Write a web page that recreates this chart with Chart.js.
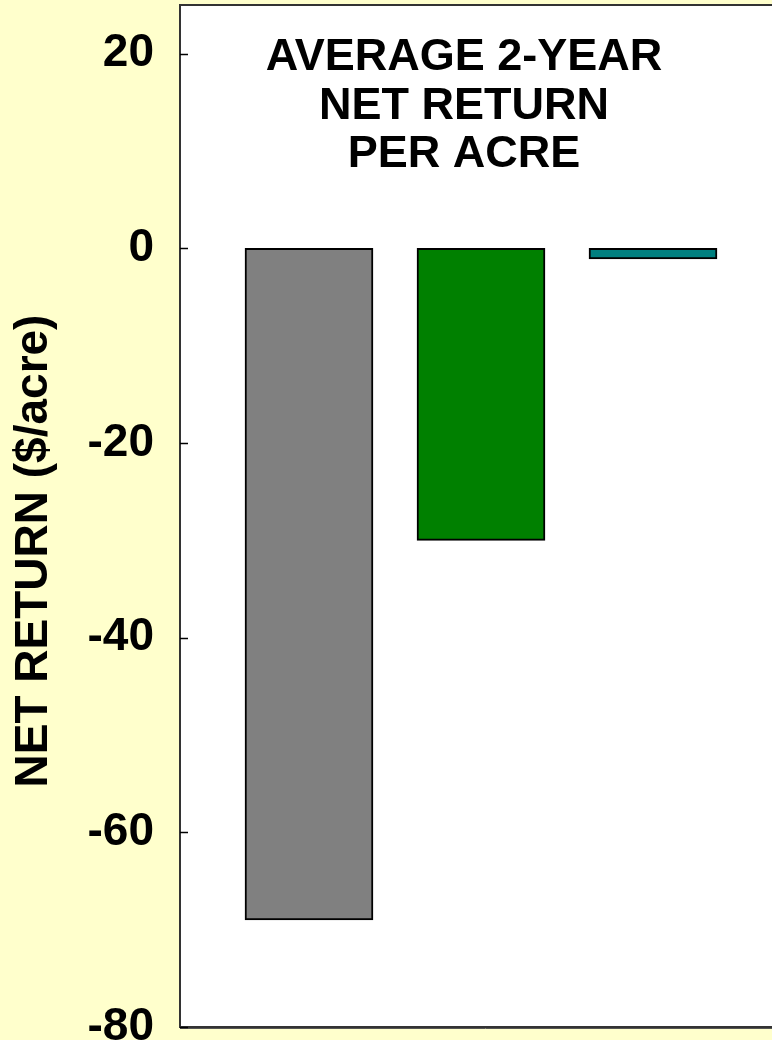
<!DOCTYPE html>
<html>
<head>
<meta charset="utf-8">
<script src="https://cdn.jsdelivr.net/npm/chart.js@4/dist/chart.umd.min.js"></script>
<style>
  html, body { margin: 0; padding: 0; background: #FFFFCC; overflow: hidden; }
  #wrap { width: 772px; height: 1040px; overflow: hidden; }
  canvas { display: block; }
</style>
</head>
<body>
<div id="wrap"><canvas id="chart" width="790" height="1040"></canvas></div>
<script>
// Treatment positions and their average 2-year net return ($/acre)
const positions = [1, 2, 3];
const netReturn = [-69, -30, -1.1];
const barColors = ['#808080', '#008000', '#008080'];
const yTicks = [-80, -60, -40, -20, 0, 20];
const titleLines = ['AVERAGE 2-YEAR', 'NET RETURN', 'PER ACRE'];
const yTitle = 'NET RETURN ($/acre)';

const FONT = '"Liberation Sans", Arial, Helvetica, sans-serif';

// White plot panel with its dark frame, inward tick marks and the titles
const panelPlugin = {
  id: 'panel',
  beforeDraw(chart) {
    const { ctx, chartArea: a } = chart;
    ctx.save();
    ctx.fillStyle = '#FFFFFF';
    ctx.fillRect(a.left, a.top, a.right - a.left + 20, a.bottom - a.top);
    ctx.restore();
  },
  afterDatasetsDraw(chart) {
    const { ctx, chartArea: a, scales } = chart;
    ctx.save();
    // frame
    ctx.strokeStyle = '#333333';
    ctx.lineWidth = 2;
    ctx.beginPath();
    ctx.moveTo(a.right + 20, a.top);
    ctx.lineTo(a.left, a.top);
    ctx.lineTo(a.left, a.bottom);
    ctx.lineTo(a.right + 20, a.bottom);
    ctx.stroke();
    ctx.strokeStyle = '#555555';
    ctx.lineWidth = 1;
    ctx.beginPath();
    ctx.moveTo(a.left, a.bottom + 1.5);
    ctx.lineTo(a.right + 20, a.bottom + 1.5);
    ctx.stroke();
    // inward tick marks
    ctx.strokeStyle = '#000000';
    ctx.lineWidth = 1.5;
    yTicks.forEach(v => {
      const y = Math.round(scales.y.getPixelForValue(v)) + 0.5;
      ctx.beginPath();
      ctx.moveTo(a.left, y);
      ctx.lineTo(a.left + 8, y);
      ctx.stroke();
    });
    // chart title inside the panel
    ctx.fillStyle = '#000000';
    ctx.font = 'bold 45px ' + FONT;
    ctx.textAlign = 'center';
    ctx.textBaseline = 'alphabetic';
    const cx = a.left + 284;
    titleLines.forEach((t, i) => {
      ctx.fillText(t, cx, a.top + 65 + i * 48.5);
    });
    // vertical axis title
    ctx.font = 'bold 46px ' + FONT;
    ctx.translate(34, (a.top + a.bottom) / 2 + 35);
    ctx.rotate(-Math.PI / 2);
    ctx.textBaseline = 'middle';
    ctx.fillText(yTitle, 0, 0);
    ctx.restore();
  }
};

new Chart(document.getElementById('chart'), {
  type: 'bar',
  data: {
    datasets: [{
      data: positions.map((x, i) => ({ x: x, y: netReturn[i] })),
      backgroundColor: barColors,
      borderColor: '#000000',
      borderWidth: 2,
      borderSkipped: false,
      barThickness: 128
    }]
  },
  options: {
    responsive: false,
    animation: false,
    devicePixelRatio: 1,
    layout: { padding: { top: 5, bottom: 13, left: 0, right: 8 } },
    plugins: {
      legend: { display: false },
      tooltip: { enabled: false },
      title: { display: false }
    },
    scales: {
      x: {
        type: 'linear',
        display: false,
        offset: false,
        min: 0.25,
        max: 3.75
      },
      y: {
        min: -80,
        max: 25,
        afterBuildTicks(scale) {
          scale.ticks = yTicks.map(v => ({ value: v }));
        },
        afterFit(scale) {
          scale.width = 180;
          scale.paddingTop = 0;
          scale.paddingBottom = 0;
        },
        grid: { display: false, drawTicks: false },
        border: { display: false },
        ticks: {
          color: '#000000',
          padding: 26,
          font: { family: FONT, size: 46, weight: 'bold' }
        }
      }
    }
  },
  plugins: [panelPlugin]
});
</script>
</body>
</html>
